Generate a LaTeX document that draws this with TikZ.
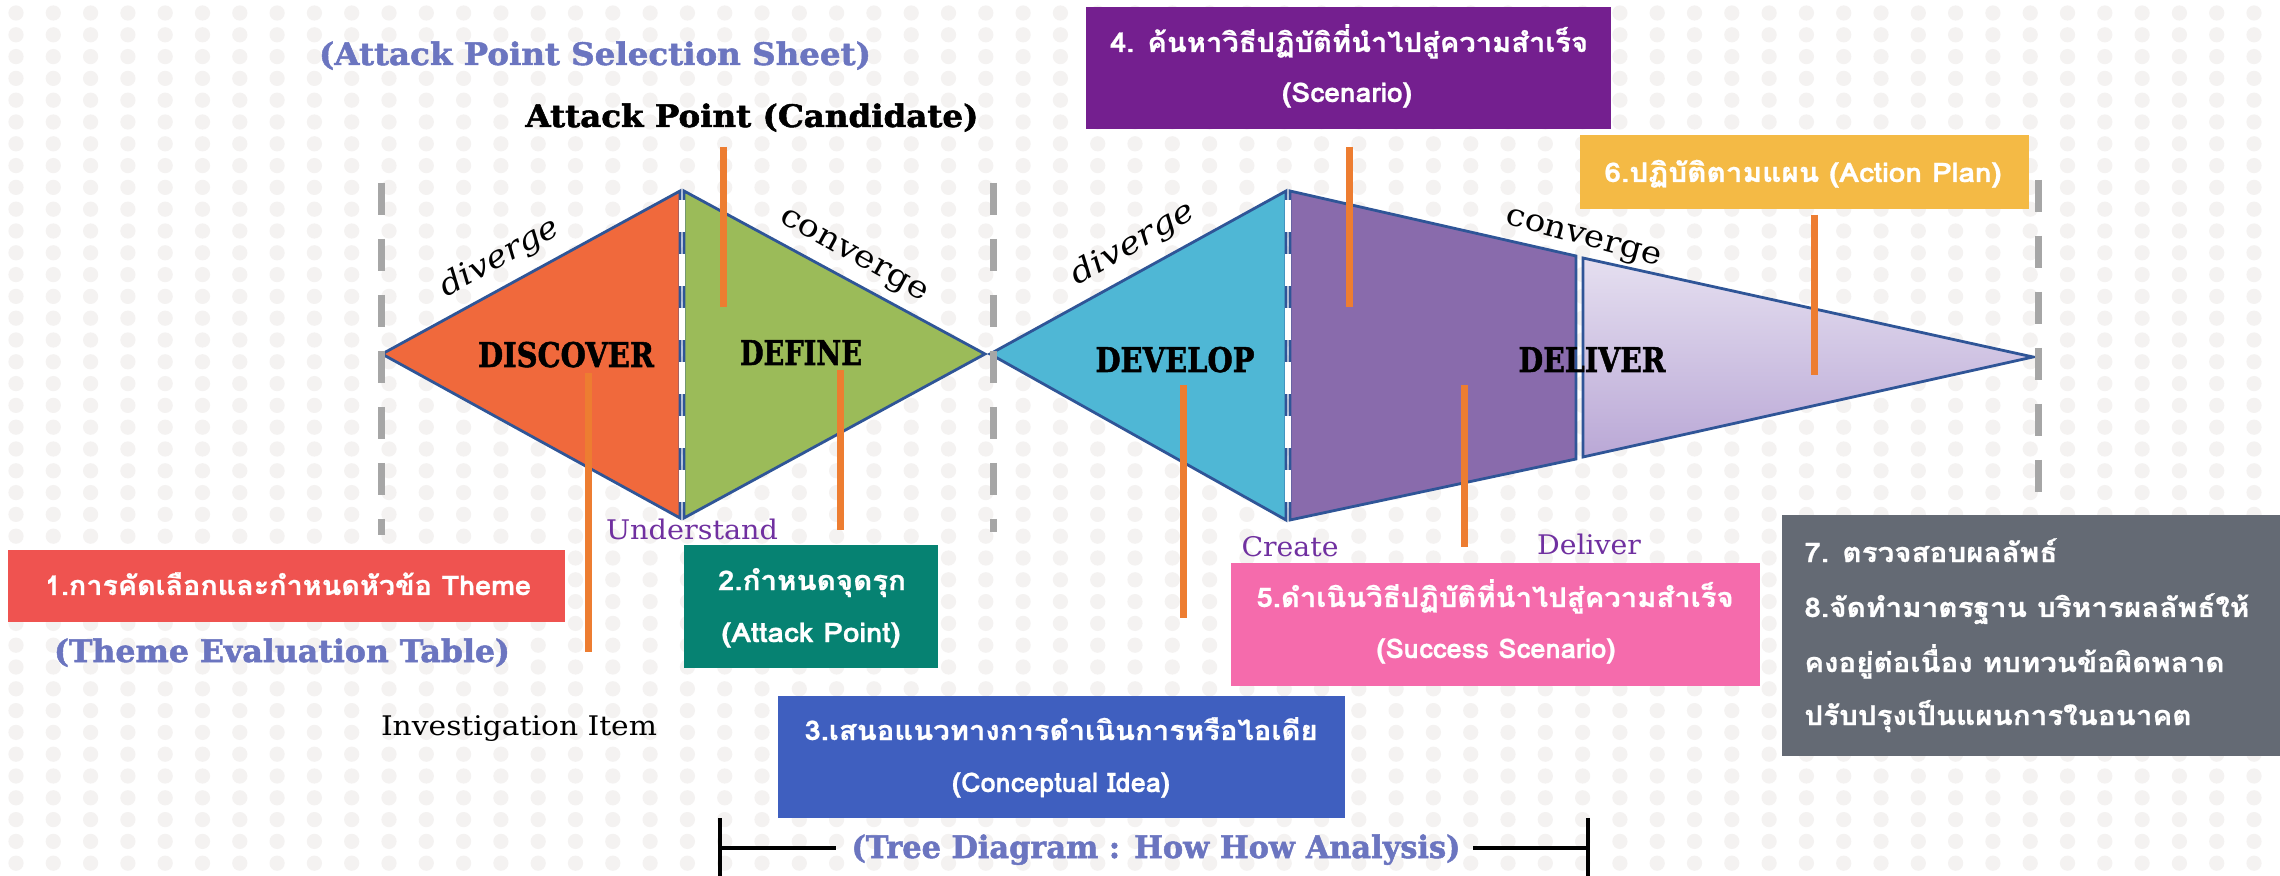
\documentclass[tikz,border=0pt]{standalone}
\usepackage{fontspec}
\usepackage{graphicx}
\newfontfamily\thai[Script=Thai,BoldFeatures={FakeBold=0.8}]{Loma}
\newfontfamily\slab{DejaVu Serif}
\newfontfamily\heavy[BoldFeatures={FakeBold=1.6}]{DejaVu Serif}
\newlength\fitlen
\newcommand\fitw[2]{\settowidth\fitlen{#2}\pgfmathsetmacro\fitr{(#1*0.5pt)/\fitlen}\scalebox{\fitr}[1]{#2}}
\definecolor{dotc}{RGB}{244,242,241}
\definecolor{orangeF}{RGB}{240,105,60}
\definecolor{greenF}{RGB}{155,187,89}
\definecolor{blueF}{RGB}{79,183,213}
\definecolor{purpF}{RGB}{137,107,172}
\definecolor{lavT}{RGB}{229,223,240}
\definecolor{lavB}{RGB}{186,168,214}
\definecolor{bord}{RGB}{47,85,151}
\definecolor{oline}{RGB}{237,125,49}
\definecolor{gline}{RGB}{166,166,166}
\definecolor{peri}{RGB}{107,117,192}
\definecolor{lblp}{RGB}{112,48,160}
\definecolor{cbox1}{RGB}{239,83,80}
\definecolor{cbox2}{RGB}{6,130,114}
\definecolor{cbox3}{RGB}{63,95,191}
\definecolor{cbox4}{RGB}{116,31,143}
\definecolor{cbox5}{RGB}{245,107,172}
\definecolor{cbox6}{RGB}{244,186,69}
\definecolor{cbox7}{RGB}{100,106,116}
\begin{document}
\begin{tikzpicture}[x=0.5pt,y=-0.5pt,
  shp/.style={draw=bord,line width=1.4pt},
  wdash/.style={draw=white,line width=3pt,dash pattern=on 16pt off 11pt},
  gdash/.style={draw=gline,line width=3.5pt,dash pattern=on 16pt off 12pt},
  oln/.style={draw=oline,line width=3.5pt},
  boxr/.style={inner sep=0pt,outer sep=0pt,anchor=north west},
  thaitxt/.style={font=\thai\bfseries\fontsize{13.5}{15}\selectfont,text=white,inner sep=0pt,anchor=base},
  phase/.style={font=\heavy\bfseries\fontsize{17}{18}\selectfont,inner sep=0pt,anchor=base},
  title/.style={font=\heavy\bfseries\fontsize{15.5}{18}\selectfont,inner sep=0pt,anchor=base},
  edgetxt/.style={font=\slab\fontsize{15.5}{18}\selectfont,inner sep=0pt},
  lbl/.style={font=\slab\fontsize{13.5}{16}\selectfont,inner sep=0pt,anchor=base,text=lblp},
  brk/.style={draw=black,line width=1.75pt}]
\useasboundingbox (0,0) rectangle (2280,876);
\fill[white] (0,0) rectangle (2280,876);
\foreach \i in {0,...,61}{\foreach \j in {0,...,39}{\fill[dotc] (16+37.3*\i,13+21.8*\j) circle[radius=3.8pt];}}
% shapes
\filldraw[shp,fill=orangeF] (382,354) -- (680,191) -- (680,518) -- cycle;
\filldraw[shp,fill=greenF] (684,191) -- (985,354) -- (684,518) -- cycle;
\draw[wdash] (682,200) -- (682,516);
\filldraw[shp,fill=blueF] (990,354) -- (1286,191) -- (1286,520) -- cycle;
\filldraw[shp,fill=purpF] (1290,191) -- (1576,256) -- (1576,459) -- (1290,520) -- cycle;
\shadedraw[shp,top color=lavT,bottom color=lavB] (1583,258) -- (2033,357) -- (1583,457) -- cycle;
\draw[wdash] (1288,200) -- (1288,518);
% gray dashed separators
\draw[gdash] (381,183) -- (381,535);
\draw[gdash] (993,183) -- (993,532);
\draw[gdash] (2038,180) -- (2038,492);
% orange pointer lines
\draw[oln] (723,147) -- (723,307);
\draw[oln] (588,373) -- (588,652);
\draw[oln] (840,370) -- (840,530);
\draw[oln] (1349,147) -- (1349,307);
\draw[oln] (1183,385) -- (1183,618);
\draw[oln] (1464,385) -- (1464,547);
\draw[oln] (1814,215) -- (1814,375);
% phase labels
\node[phase] (discover) at (566,367) {\fitw{176}{DISCOVER}};
\node[phase] (define) at (801,365) {\fitw{122}{DEFINE}};
\node[phase] (develop) at (1175,372) {\fitw{159}{DEVELOP}};
\node[phase] (deliver) at (1592,372) {\fitw{147}{DELIVER}};
% edge words
\node[edgetxt,rotate=29] (div1) at (500,258) {\fitw{132}{\itshape diverge}};
\node[edgetxt,rotate=-29] (con1) at (853,257) {\fitw{165}{converge}};
\node[edgetxt,rotate=30] (div2) at (1133,244) {\fitw{138}{\itshape diverge}};
\node[edgetxt,rotate=-15] (con2) at (1583,240) {\fitw{160}{converge}};
% titles
\node[title,text=peri] (sheet) at (595,65) {\fitw{552}{(Attack Point Selection Sheet)}};
\node[title] (cand) at (752,127) {\fitw{453}{Attack Point (Candidate)}};
\node[title,text=peri] (theme) at (282,662) {\fitw{456}{(Theme Evaluation Table)}};
\node[title,text=peri] (tree) at (1156,858) {\fitw{609}{(Tree Diagram : How How Analysis)}};
% small labels
\node[lbl] (und) at (692,539) {\fitw{172}{Understand}};
\node[lbl] (create) at (1290,557) {\fitw{97}{Create}};
\node[lbl] (deliv) at (1589,555) {\fitw{104}{Deliver}};
\node[lbl,text=black] (invest) at (519,735) {\fitw{276}{Investigation Item}};
% bracket
\coordinate (bl) at (720,848);
\coordinate (br) at (1588,848);
\draw[brk] (720,818) -- (720,876);
\draw[brk] (1588,818) -- (1588,876);
\draw[brk] (bl) -- (836,848);
\draw[brk] (1473,848) -- (br);
% boxes
\node[boxr,fill=cbox1,minimum width=278.5pt,minimum height=36pt] (box1) at (8,550) {};
\node[boxr,fill=cbox2,minimum width=127pt,minimum height=61.5pt] (box2) at (684,545) {};
\node[boxr,fill=cbox3,minimum width=283.5pt,minimum height=61pt] (box3) at (778,696) {};
\node[boxr,fill=cbox4,minimum width=262.5pt,minimum height=61pt] (box4) at (1086,7) {};
\node[boxr,fill=cbox5,minimum width=264.5pt,minimum height=61.5pt] (box5) at (1231,563) {};
\node[boxr,fill=cbox6,minimum width=224.5pt,minimum height=37pt] (box6) at (1580,135) {};
\node[boxr,fill=cbox7,minimum width=249pt,minimum height=120.5pt] (box7) at (1782,515) {};
% box texts
\node[thaitxt] (t1) at (288,595) {\fitw{486}{1.การคัดเลือกและกำหนดหัวข้อ Theme}};
\node[thaitxt] (t2a) at (812,590) {\fitw{188}{2.กำหนดจุดรุก}};
\node[thaitxt] (t2b) at (811,642) {\fitw{179}{(Attack Point)}};
\node[thaitxt] (t3a) at (1061,740) {\fitw{513}{3.เสนอแนวทางการดำเนินการหรือไอเดีย}};
\node[thaitxt] (t3b) at (1061,792) {\fitw{218}{(Conceptual Idea)}};
\node[thaitxt] (t4a) at (1349,52) {\fitw{478}{4. ค้นหาวิธีปฏิบัติที่นำไปสู่ความสำเร็จ}};
\node[thaitxt] (t4b) at (1347,102) {\fitw{130}{(Scenario)}};
\node[thaitxt] (t5a) at (1495,607) {\fitw{477}{5.ดำเนินวิธีปฏิบัติที่นำไปสู่ความสำเร็จ}};
\node[thaitxt] (t5b) at (1496,658) {\fitw{239}{(Success Scenario)}};
\node[thaitxt] (t6) at (1803,182) {\fitw{397}{6.ปฏิบัติตามแผน (Action Plan)}};
\node[thaitxt,anchor=base west] (t7a) at (1804,562) {\fitw{253}{7. ตรวจสอบผลลัพธ์}};
\node[thaitxt,anchor=base west] (t7b) at (1804,617) {\fitw{445}{8.จัดทำมาตรฐาน บริหารผลลัพธ์ให้}};
\node[thaitxt,anchor=base west] (t7c) at (1804,672) {\fitw{420}{คงอยู่ต่อเนื่อง ทบทวนข้อผิดพลาด}};
\node[thaitxt,anchor=base west] (t7d) at (1804,725) {\fitw{387}{ปรับปรุงเป็นแผนการในอนาคต}};
\end{tikzpicture}
\end{document}
